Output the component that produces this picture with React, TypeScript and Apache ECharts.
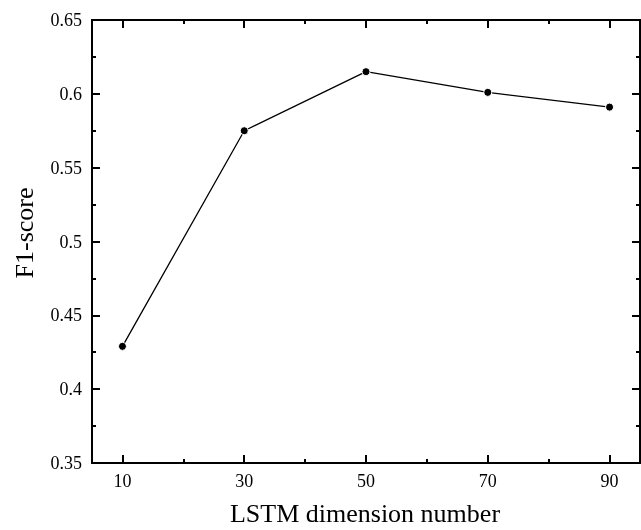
import React, { useEffect, useRef } from "react";
import * as echarts from "echarts";

const dims = [10, 30, 50, 70, 90];
const f1 = [0.429, 0.575, 0.615, 0.601, 0.591];
const majorX = [10, 30, 50, 70, 90];
const minorX = [20, 40, 60, 80];

const FONT = "'Liberation Serif', 'Times New Roman', serif";

export default function App() {
  const ref = useRef<HTMLDivElement>(null);
  useEffect(() => {
    document.body.style.margin = "0";
    const chart = echarts.init(ref.current!, null, { renderer: "svg" });
    const tickStyle = { color: "#000", width: 2 };
    const axisLine = { show: true, onZero: false, lineStyle: { color: "#000", width: 2 } };
    const mkX = (pos: string, values: number[], len: number, label: boolean) => ({
      type: "value",
      position: pos,
      min: 5,
      max: 95,
      splitLine: { show: false },
      axisLine,
      axisTick: { show: true, inside: true, length: len, customValues: values, lineStyle: tickStyle },
      axisLabel: label
        ? { show: true, customValues: majorX, margin: 9, color: "#000", fontFamily: FONT, fontSize: 18 }
        : { show: false },
    });
    const mkY = (pos: string, label: boolean) => ({
      type: "value",
      position: pos,
      min: 0.35,
      max: 0.65,
      interval: 0.05,
      splitLine: { show: false },
      axisLine,
      axisTick: { show: true, inside: true, length: 8, lineStyle: tickStyle },
      minorTick: { show: true, splitNumber: 2, length: 4, lineStyle: tickStyle },
      axisLabel: label
        ? { show: true, margin: 10, color: "#000", fontFamily: FONT, fontSize: 18 }
        : { show: false },
    });
    chart.setOption({
      animation: false,
      textStyle: { fontFamily: FONT, color: "#000" },
      grid: { left: 92, top: 20, right: 1, bottom: 67, containLabel: false, outerBoundsMode: "none" },
      xAxis: [
        mkX("bottom", majorX, 8, true),
        mkX("bottom", minorX, 4, false),
        mkX("top", majorX, 8, false),
        mkX("top", minorX, 4, false),
      ],
      yAxis: [mkY("left", true), mkY("right", false)],
      graphic: [
        {
          type: "text",
          x: 365,
          y: 513,
          style: {
            text: "LSTM dimension number",
            fontFamily: FONT,
            fontSize: 26,
            fill: "#000",
            textAlign: "center",
            textVerticalAlign: "middle",
          },
        },
        {
          type: "text",
          x: 24,
          y: 233,
          rotation: Math.PI / 2,
          style: {
            text: "F1-score",
            fontFamily: FONT,
            fontSize: 26,
            fill: "#000",
            textAlign: "center",
            textVerticalAlign: "middle",
          },
        },
      ],
      series: [
        {
          type: "line",
          xAxisIndex: 0,
          yAxisIndex: 0,
          data: dims.map((d, i) => [d, f1[i]]),
          symbol: "circle",
          symbolSize: 8,
          itemStyle: { color: "#000", borderColor: "#fff", borderWidth: 1 },
          lineStyle: { color: "#000", width: 1.3 },
        },
      ],
    });
    return () => chart.dispose();
  }, []);
  return (
    <div
      ref={ref}
      style={{ position: "fixed", left: 0, top: 0, width: 641, height: 530 }}
    />
  );
}
